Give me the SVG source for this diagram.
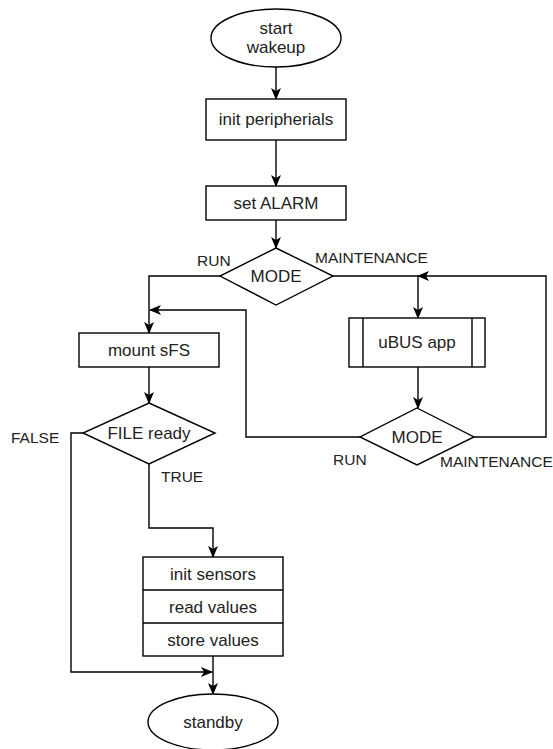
<svg xmlns="http://www.w3.org/2000/svg" width="553" height="749" viewBox="0 0 553 749">
<style>
.s{fill:#fff;stroke:#000;stroke-width:1.4}
.t{font-family:"Liberation Sans",Arial,sans-serif;font-size:17px;fill:#222;text-anchor:middle}
.l{font-family:"Liberation Sans",Arial,sans-serif;font-size:15.5px;fill:#222}
.c{fill:none;stroke:#000;stroke-width:1.4}
</style>
<defs>
<marker id="a" viewBox="0 0 12 10" refX="11" refY="5" markerWidth="12" markerHeight="10" markerUnits="userSpaceOnUse" orient="auto">
<path d="M0,0 L12,5 L0,10 L3,5 Z" fill="#000"/>
</marker>
</defs>
<g id="connectors">
<path class="c" d="M276,67 V99" marker-end="url(#a)"/>
<path class="c" d="M276,140 V186" marker-end="url(#a)"/>
<path class="c" d="M276,220 V248" marker-end="url(#a)"/>
<path class="c" d="M220,276 H149 V333" marker-end="url(#a)"/>
<path class="c" d="M333,276 H418 V318" marker-end="url(#a)"/>
<path class="c" d="M418,367 V408" marker-end="url(#a)"/>
<path class="c" d="M474,437 H546 V276 H418" marker-end="url(#a)"/>
<path class="c" d="M360,437 H246 V310 H150" marker-end="url(#a)"/>
<path class="c" d="M149,367 V403" marker-end="url(#a)"/>
<path class="c" d="M149,464 V528 H213 V557" marker-end="url(#a)"/>
<path class="c" d="M83,433 H71 V672 H212" marker-end="url(#a)"/>
<path class="c" d="M213,656 V694" marker-end="url(#a)"/>
<text class="l" x="197" y="266">RUN</text>
<text class="l" x="315" y="263">MAINTENANCE</text>
<text class="l" x="333" y="465">RUN</text>
<text class="l" x="440" y="467">MAINTENANCE</text>
<text class="l" x="11" y="443">FALSE</text>
<text class="l" x="161" y="482">TRUE</text>
</g>
<g id="start">
<ellipse class="s" cx="276" cy="38" rx="65" ry="29"/>
<text class="t" x="276" y="34">start</text>
<text class="t" x="276" y="53">wakeup</text>
</g>
<g id="init">
<rect class="s" x="206" y="99" width="140" height="41"/>
<text class="t" x="276" y="125">init peripherials</text>
</g>
<g id="alarm">
<rect class="s" x="206" y="186" width="140" height="34"/>
<text class="t" x="276" y="209">set ALARM</text>
</g>
<g id="mode1">
<path class="s" d="M276,248 L333,276 L276,305 L220,276 Z"/>
<text class="t" x="276" y="282">MODE</text>
</g>
<g id="mount">
<rect class="s" x="79" y="333" width="140" height="34"/>
<text class="t" x="149" y="356">mount sFS</text>
</g>
<g id="ubus">
<rect class="s" x="349" y="318" width="136" height="49"/>
<path class="c" d="M363,318 V367 M472,318 V367"/>
<text class="t" x="417" y="348">uBUS app</text>
</g>
<g id="mode2">
<path class="s" d="M417,408 L474,437 L417,465 L360,437 Z"/>
<text class="t" x="417" y="443">MODE</text>
</g>
<g id="file">
<path class="s" d="M149,403 L215,433 L149,464 L83,433 Z"/>
<text class="t" x="149" y="439">FILE ready</text>
</g>
<g id="sensors">
<rect class="s" x="143" y="557" width="140" height="99"/>
<path class="c" d="M143,590 H283 M143,623 H283"/>
<text class="t" x="213" y="580">init sensors</text>
<text class="t" x="213" y="613">read values</text>
<text class="t" x="213" y="646">store values</text>
</g>
<g id="standby">
<ellipse class="s" cx="213" cy="722" rx="65" ry="28"/>
<text class="t" x="213" y="728">standby</text>
</g>
</svg>
